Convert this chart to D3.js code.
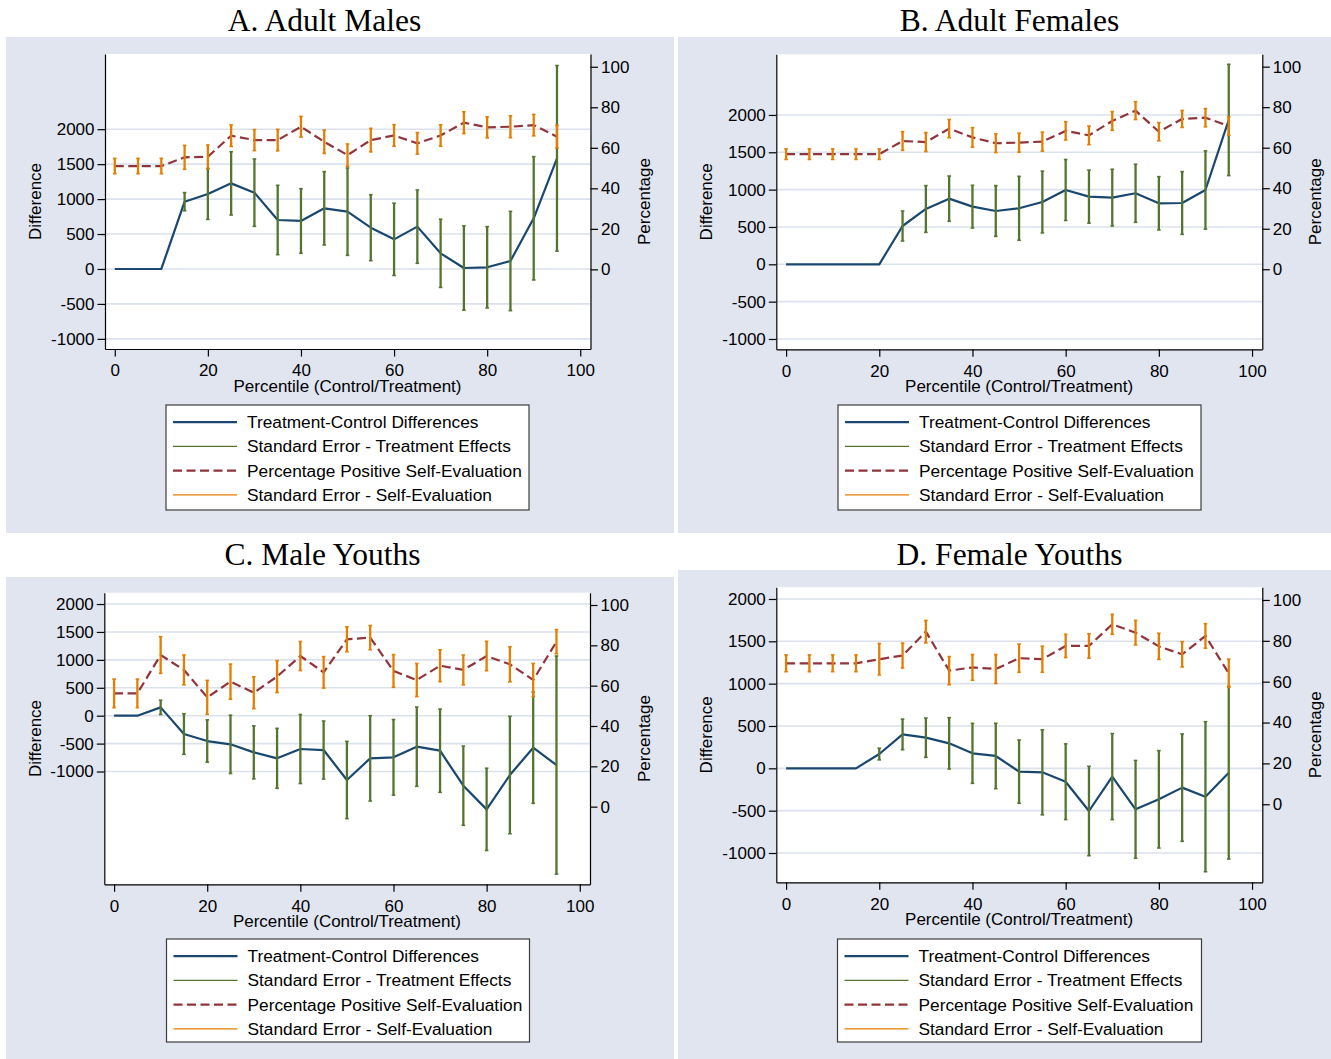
<!DOCTYPE html>
<html>
<head>
<meta charset="utf-8">
<script src="https://cdn.jsdelivr.net/npm/d3@7"></script>
<style>
  html, body { margin: 0; padding: 0; background: #ffffff; }
  svg { display: block; }
</style>
</head>
<body>
<script>
// ---------------- DATA ----------------
const percentiles = [0, 5, 10, 15, 20, 25, 30, 35, 40, 45, 50, 55, 60, 65, 70, 75, 80, 85, 90, 95];
const xTicks = [0, 20, 40, 60, 80, 100];
const diffTicks = [-1000, -500, 0, 500, 1000, 1500, 2000];
const pctTicks = [0, 20, 40, 60, 80, 100];
const panelTitles = ["A. Adult Males", "B. Adult Females", "C. Male Youths", "D. Female Youths"];
const legendLabels = [
  "Treatment-Control Differences",
  "Standard Error - Treatment Effects",
  "Percentage Positive Self-Evaluation",
  "Standard Error - Self-Evaluation"
];
const xTitle = "Percentile (Control/Treatment)";
const yLeftTitle = "Difference";
const yRightTitle = "Percentage";

// A. Adult Males
const diffA    = [0, 0, 0, 963, 1073, 1225, 1092, 701, 687, 868, 820, 591, 424, 606, 224, 14, 24, 114, 725, 1583];
const diffErrA = [0, 0, 0, 130, 363, 453, 482, 496, 462, 525, 625, 472, 517, 525, 488, 603, 582, 710, 882, 1328];
const pctA     = [51, 51, 51, 55.3, 55.6, 66, 63.8, 63.8, 70.4, 63, 56.4, 63.8, 66.1, 62.2, 66.1, 72.4, 70.1, 70.4, 71.2, 65.5];
const pctErrA  = [3.8, 3.8, 3.8, 5.9, 5.8, 5.3, 5.2, 5.3, 5.1, 5.8, 5.5, 5.8, 5.3, 5.3, 5.3, 5.4, 5.2, 5.4, 5.3, 5.6];

// B. Adult Females
const diffB    = [0, 0, 0, 0, 0, 513, 741, 879, 772, 714, 750, 834, 995, 906, 893, 951, 817, 821, 995, 1933];
const diffErrB = [0, 0, 0, 0, 0, 201, 313, 303, 286, 340, 428, 413, 408, 355, 380, 389, 357, 420, 524, 745];
const pctB     = [56.8, 56.8, 56.8, 56.8, 56.8, 63.3, 62.8, 69.4, 65.1, 62.2, 62.5, 63.0, 68.3, 66.1, 73.2, 78.3, 67.9, 74.2, 74.8, 70.7];
const pctErrB  = [2.6, 2.6, 2.6, 2.6, 2.6, 4.6, 4.7, 4.5, 4.8, 4.6, 4.7, 4.7, 4.5, 4.6, 4.6, 4.4, 4.5, 4.2, 4.5, 4.5];

// C. Male Youths
const diffC    = [0, 0, 149, -328, -454, -513, -657, -764, -597, -615, -1152, -764, -746, -555, -627, -1254, -1678, -1063, -573, -884];
const diffErrC = [0, 0, 128, 364, 379, 522, 475, 537, 618, 520, 692, 764, 677, 710, 746, 710, 737, 1051, 997, 1953];
const pctC     = [56.2, 56.2, 75.2, 67.8, 54.2, 62.0, 56.5, 64.5, 74.7, 66.6, 83.0, 83.8, 67.3, 62.8, 69.9, 67.8, 74.7, 70.6, 62.8, 81.8];
const pctErrC  = [7.1, 7.1, 9.1, 7.4, 8.4, 8.7, 7.9, 7.9, 7.2, 7.8, 6.2, 6.0, 8.1, 8.2, 7.9, 7.4, 7.3, 8.7, 8.2, 6.0];

// D. Female Youths
const diffD    = [0, 0, 0, 0, 169, 401, 362, 295, 177, 146, -39, -47, -158, -504, -98, -484, -366, -228, -335, -51];
const diffErrD = [0, 0, 0, 0, 69, 181, 232, 303, 354, 386, 374, 502, 447, 528, 508, 577, 575, 634, 886, 1020];
const pctD     = [69.0, 69.0, 69.0, 69.0, 71.0, 72.8, 84.5, 65.4, 67.0, 66.2, 71.5, 71.0, 77.5, 77.5, 88.1, 84.0, 77.3, 73.4, 82.4, 64.1];
const pctErrD  = [4.1, 4.1, 4.1, 4.1, 7.7, 6.1, 5.5, 6.9, 6.3, 7.1, 6.9, 6.4, 5.7, 6.0, 4.9, 6.0, 6.4, 6.2, 6.0, 6.9];

// ---------------- STYLE / LAYOUT ----------------
const C_NAVY = "#1a476f", C_GREEN = "#55752f", C_MAROON = "#90353b", C_ORANGE = "#e37e00";
const C_BG = "#e0e5f0", C_GRID = "#dbe1ed";
const SANS = "'Liberation Sans', Arial, sans-serif";
const SERIF = "'Liberation Serif', 'Times New Roman', serif";
const FS = 17;
const LFS = 17.3;
const fmt = d => String(d);   // plain hyphen-minus as in the reference

const panels = [
  { title: panelTitles[0], diff: diffA, diffErr: diffErrA, pct: pctA, pctErr: pctErrA,
    bg: [6, 37, 674, 533], titleX: 324.5, titleY: 31,
    l: 105, r: 590.5, t: 54, b: 349, diffDomain: [-1145, 3076], pctDomain: [-39.3, 106.3],
    leg: [166, 405, 363, 105], yLX: 40.5, yRX: 649.5 },
  { title: panelTitles[1], diff: diffB, diffErr: diffErrB, pct: pctB, pctErr: pctErrB,
    bg: [678, 37, 1331, 533], titleX: 1009.5, titleY: 31,
    l: 776.3, r: 1262.3, t: 54.3, b: 349.3, diffDomain: [-1138, 2812], pctDomain: [-39.5, 106.1],
    leg: [838, 405, 363, 105], yLX: 712, yRX: 1321 },
  { title: panelTitles[2], diff: diffC, diffErr: diffErrC, pct: pctC, pctErr: pctErrC,
    bg: [6, 577, 674, 1059], titleX: 322.5, titleY: 565,
    l: 104.3, r: 590, t: 592.7, b: 884.3, diffDomain: [-3020, 2203], pctDomain: [-38.5, 106.1],
    leg: [166.5, 939, 363, 103], yLX: 40.5, yRX: 649.5 },
  { title: panelTitles[3], diff: diffD, diffErr: diffErrD, pct: pctD, pctErr: pctErrD,
    bg: [678, 570, 1331, 1059], titleX: 1009.5, titleY: 565,
    l: 776.3, r: 1262.3, t: 587.3, b: 882.3, diffDomain: [-1346, 2138], pctDomain: [-38.2, 106.2],
    leg: [837.5, 939, 364, 103], yLX: 712, yRX: 1321 }
];

const svg = d3.select("body").append("svg")
  .attr("width", 1331).attr("height", 1059)
  .style("font-family", SANS);

svg.append("rect").attr("width", 1331).attr("height", 1059).attr("fill", "#ffffff");

function styleAxis(g) {
  g.selectAll("path.domain").attr("stroke", "#000").attr("stroke-width", 1.2);
  g.selectAll(".tick line").attr("stroke", "#000").attr("stroke-width", 1.2);
  g.selectAll(".tick text").attr("fill", "#000").attr("font-size", FS).attr("font-family", SANS);
}

panels.forEach(p => {
  const g = svg.append("g");
  // background
  g.append("rect")
    .attr("x", p.bg[0]).attr("y", p.bg[1])
    .attr("width", p.bg[2] - p.bg[0]).attr("height", p.bg[3] - p.bg[1])
    .attr("fill", C_BG);
  // title
  g.append("text")
    .attr("x", p.titleX).attr("y", p.titleY)
    .attr("text-anchor", "middle")
    .attr("font-family", SERIF).attr("font-size", 31.5)
    .attr("fill", "#000")
    .text(p.title);
  // plot region
  g.append("rect")
    .attr("x", p.l).attr("y", p.t).attr("width", p.r - p.l).attr("height", p.b - p.t)
    .attr("fill", "#ffffff");

  const x = d3.scaleLinear().domain([-2.1, 102.2]).range([p.l, p.r]);
  const yL = d3.scaleLinear().domain(p.diffDomain).range([p.b, p.t]);
  const yR = d3.scaleLinear().domain(p.pctDomain).range([p.b, p.t]);

  // grid
  g.append("g").selectAll("line").data(diffTicks).join("line")
    .attr("x1", p.l).attr("x2", p.r)
    .attr("y1", d => yL(d)).attr("y2", d => yL(d))
    .attr("stroke", C_GRID).attr("stroke-width", 1.6);

  // axes
  const axL = g.append("g").attr("transform", `translate(${p.l},0)`)
    .call(d3.axisLeft(yL).tickValues(diffTicks).tickSize(7.5).tickSizeOuter(0).tickPadding(3).tickFormat(fmt));
  styleAxis(axL);
  const axB = g.append("g").attr("transform", `translate(0,${p.b})`)
    .call(d3.axisBottom(x).tickValues(xTicks).tickSize(7.5).tickSizeOuter(0).tickPadding(7.8).tickFormat(fmt));
  styleAxis(axB);
  const axR = g.append("g").attr("transform", `translate(${p.r},0)`)
    .call(d3.axisRight(yR).tickValues(pctTicks).tickSize(7.5).tickSizeOuter(0).tickPadding(3).tickFormat(fmt));
  styleAxis(axR);

  // axis titles
  const yMid = (p.t + p.b) / 2;
  g.append("text")
    .attr("transform", `translate(${p.yLX},${yMid}) rotate(-90)`)
    .attr("text-anchor", "middle").attr("font-size", FS).attr("fill", "#000")
    .text(yLeftTitle);
  g.append("text")
    .attr("transform", `translate(${p.yRX},${yMid}) rotate(-90)`)
    .attr("text-anchor", "middle").attr("font-size", FS).attr("fill", "#000")
    .text(yRightTitle);
  g.append("text")
    .attr("x", (x(0) + x(100)) / 2).attr("y", p.b + 42.5)
    .attr("text-anchor", "middle").attr("font-size", FS).attr("fill", "#000")
    .text(xTitle);

  const idx = d3.range(percentiles.length);

  // treatment-control difference line
  g.append("path")
    .datum(idx)
    .attr("fill", "none").attr("stroke", C_NAVY).attr("stroke-width", 2.2)
    .attr("stroke-linejoin", "round")
    .attr("d", d3.line().x(i => x(percentiles[i])).y(i => yL(p.diff[i])));

  // SE of treatment effects
  const gse = g.append("g").attr("stroke", C_GREEN).attr("stroke-width", 2.3);
  idx.filter(i => p.diffErr[i] > 0).forEach(i => {
    const cx = x(percentiles[i]);
    const y1 = yL(p.diff[i] + p.diffErr[i]), y2 = yL(p.diff[i] - p.diffErr[i]);
    gse.append("line").attr("x1", cx).attr("x2", cx).attr("y1", y1).attr("y2", y2);
    gse.append("line").attr("x1", cx - 1.8).attr("x2", cx + 1.8).attr("y1", y1).attr("y2", y1).attr("stroke-width", 1.6);
    gse.append("line").attr("x1", cx - 1.8).attr("x2", cx + 1.8).attr("y1", y2).attr("y2", y2).attr("stroke-width", 1.6);
  });

  // percentage positive self-evaluation
  g.append("path")
    .datum(idx)
    .attr("fill", "none").attr("stroke", C_MAROON).attr("stroke-width", 2.2)
    .attr("stroke-dasharray", "9,4.5")
    .attr("d", d3.line().x(i => x(percentiles[i])).y(i => yR(p.pct[i])));

  // SE of self-evaluation
  const gso = g.append("g").attr("stroke", C_ORANGE).attr("stroke-width", 2.3);
  idx.forEach(i => {
    const cx = x(percentiles[i]);
    const y1 = yR(p.pct[i] + p.pctErr[i]), y2 = yR(p.pct[i] - p.pctErr[i]);
    gso.append("line").attr("x1", cx).attr("x2", cx).attr("y1", y1).attr("y2", y2);
    gso.append("line").attr("x1", cx - 1.8).attr("x2", cx + 1.8).attr("y1", y1).attr("y2", y1).attr("stroke-width", 1.6);
    gso.append("line").attr("x1", cx - 1.8).attr("x2", cx + 1.8).attr("y1", y2).attr("y2", y2).attr("stroke-width", 1.6);
  });

  // legend
  const [lx, ly, lw, lh] = p.leg;
  const lg = g.append("g");
  lg.append("rect").attr("x", lx).attr("y", ly).attr("width", lw).attr("height", lh)
    .attr("fill", "#ffffff").attr("stroke", "#3c3c3c").attr("stroke-width", 1.2);
  const legStyles = [
    { c: C_NAVY, w: 2.2, dash: null },
    { c: C_GREEN, w: 1.2, dash: null },
    { c: C_MAROON, w: 2.2, dash: "9,4.5" },
    { c: C_ORANGE, w: 1.2, dash: null }
  ];
  legendLabels.forEach((lab, k) => {
    const ry = ly + 17.2 + k * 24.2;
    lg.append("line")
      .attr("x1", lx + 7).attr("x2", lx + 71).attr("y1", ry).attr("y2", ry)
      .attr("stroke", legStyles[k].c).attr("stroke-width", legStyles[k].w)
      .attr("stroke-dasharray", legStyles[k].dash);
    lg.append("text")
      .attr("x", lx + 81).attr("y", ry).attr("dy", "0.35em")
      .attr("font-size", LFS).attr("fill", "#000")
      .text(lab);
  });
});
</script>
</body>
</html>
